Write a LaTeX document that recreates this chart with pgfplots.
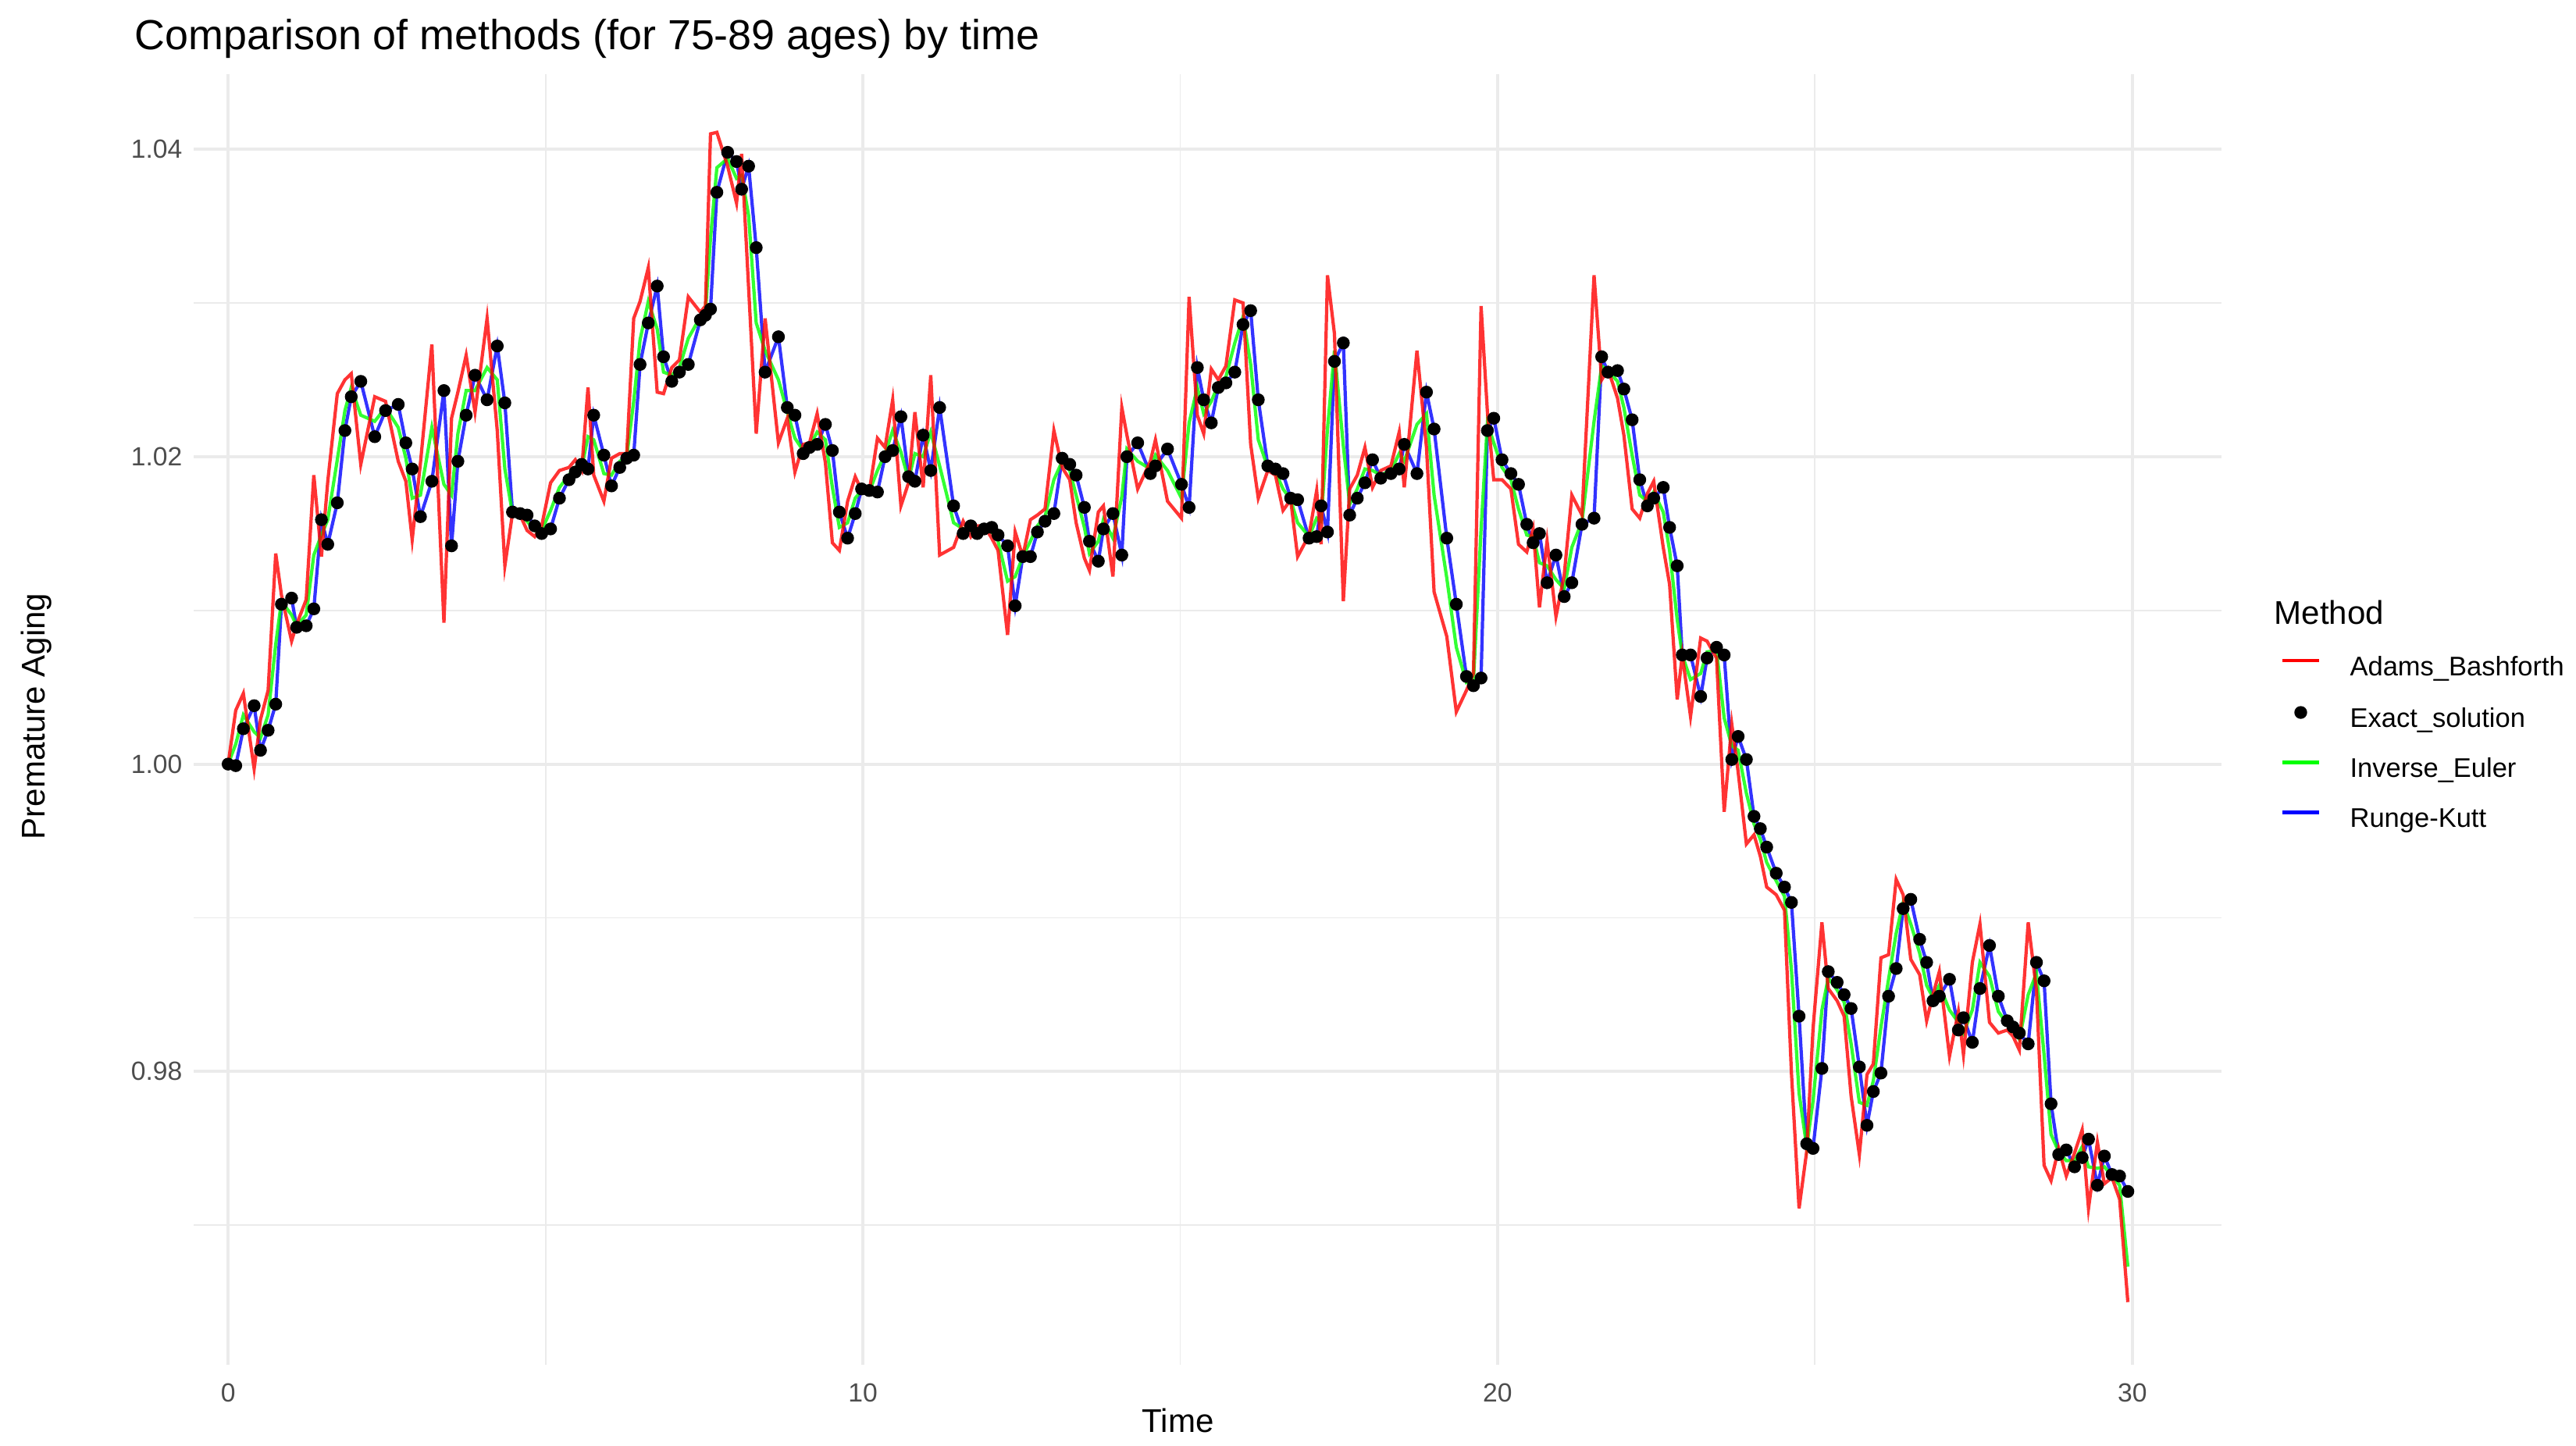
\documentclass[border=0pt]{standalone}
\usepackage{fontspec}
\setmainfont{Liberation Sans}
\usepackage{pgfplots}
\usepackage{pgfplotstable}
\pgfplotsset{compat=1.18}
\definecolor{tickgray}{HTML}{4D4D4D}
\definecolor{gridgray}{HTML}{EBEBEB}
\pgfplotstableread{
t exact inveuler adams
0.00 1.0000 1.0000 1.0000
0.12 0.9999 1.0013 1.0035
0.24 1.0023 1.0032 1.0046
0.41 1.0038 1.0021 0.9997
0.51 1.0009 1.0017 1.0029
0.63 1.0022 1.0032 1.0048
0.75 1.0039 1.0078 1.0137
0.84 1.0104 1.0106 1.0110
1.00 1.0108 1.0097 1.0080
1.08 1.0089 1.0090 1.0091
1.23 1.0090 1.0097 1.0107
1.35 1.0101 1.0136 1.0188
1.47 1.0159 1.0149 1.0135
1.57 1.0143 1.0159 1.0184
1.72 1.0170 1.0198 1.0241
1.84 1.0217 1.0230 1.0250
1.94 1.0239 1.0245 1.0254
2.09 1.0249 1.0227 1.0195
2.31 1.0213 1.0223 1.0239
2.48 1.0230 1.0232 1.0236
2.68 1.0234 1.0219 1.0197
2.80 1.0209 1.0199 1.0184
2.90 1.0192 1.0173 1.0146
3.03 1.0161 1.0175 1.0196
3.21 1.0184 1.0219 1.0273
3.40 1.0243 1.0182 1.0092
3.52 1.0142 1.0175 1.0225
3.62 1.0197 1.0215 1.0242
3.75 1.0227 1.0243 1.0266
3.89 1.0253 1.0243 1.0229
4.08 1.0237 1.0258 1.0290
4.24 1.0272 1.0250 1.0217
4.36 1.0235 1.0192 1.0129
4.48 1.0164 1.0163 1.0163
4.60 1.0163 1.0162 1.0162
4.71 1.0162 1.0158 1.0152
4.83 1.0155 1.0152 1.0148
4.94 1.0150 1.0152 1.0155
5.08 1.0153 1.0165 1.0183
5.22 1.0173 1.0180 1.0191
5.37 1.0185 1.0188 1.0193
5.47 1.0190 1.0193 1.0198
5.57 1.0195 1.0193 1.0191
5.67 1.0192 1.0213 1.0245
5.76 1.0227 1.0211 1.0188
5.92 1.0201 1.0189 1.0171
6.04 1.0181 1.0188 1.0199
6.17 1.0193 1.0197 1.0202
6.28 1.0199 1.0200 1.0202
6.39 1.0201 1.0236 1.0290
6.49 1.0260 1.0276 1.0301
6.62 1.0287 1.0301 1.0323
6.76 1.0311 1.0283 1.0242
6.86 1.0265 1.0255 1.0241
6.99 1.0249 1.0253 1.0258
7.11 1.0255 1.0258 1.0263
7.25 1.0260 1.0277 1.0304
7.44 1.0289 1.0291 1.0294
7.52 1.0292 1.0294 1.0298
7.60 1.0296 1.0342 1.0410
7.70 1.0372 1.0388 1.0411
7.87 1.0398 1.0394 1.0389
8.01 1.0392 1.0381 1.0365
8.09 1.0374 1.0383 1.0397
8.20 1.0389 1.0357 1.0310
8.32 1.0336 1.0287 1.0215
8.46 1.0255 1.0269 1.0290
8.67 1.0278 1.0250 1.0209
8.81 1.0232 1.0229 1.0225
8.93 1.0227 1.0212 1.0190
9.06 1.0202 1.0204 1.0208
9.16 1.0206 1.0207 1.0209
9.28 1.0208 1.0216 1.0228
9.41 1.0221 1.0211 1.0196
9.52 1.0204 1.0180 1.0144
9.63 1.0164 1.0154 1.0139
9.76 1.0147 1.0157 1.0171
9.88 1.0163 1.0173 1.0187
9.98 1.0179 1.0178 1.0178
10.10 1.0178 1.0177 1.0177
10.23 1.0177 1.0191 1.0212
10.35 1.0200 1.0202 1.0206
10.47 1.0204 1.0217 1.0237
10.60 1.0226 1.0203 1.0168
10.72 1.0187 1.0185 1.0183
10.82 1.0184 1.0202 1.0229
10.95 1.0214 1.0200 1.0180
11.07 1.0191 1.0216 1.0253
11.21 1.0232 1.0194 1.0136
11.43 1.0168 1.0157 1.0141
11.58 1.0150 1.0153 1.0158
11.70 1.0155 1.0152 1.0148
11.80 1.0150 1.0152 1.0155
11.91 1.0153 1.0154 1.0155
12.03 1.0154 1.0151 1.0147
12.13 1.0149 1.0145 1.0139
12.28 1.0142 1.0119 1.0084
12.40 1.0103 1.0122 1.0151
12.52 1.0135 1.0135 1.0135
12.64 1.0135 1.0145 1.0159
12.75 1.0151 1.0155 1.0162
12.87 1.0158 1.0161 1.0166
13.01 1.0163 1.0185 1.0217
13.14 1.0199 1.0197 1.0193
13.26 1.0195 1.0191 1.0185
13.36 1.0188 1.0175 1.0157
13.49 1.0167 1.0154 1.0134
13.57 1.0145 1.0137 1.0126
13.71 1.0132 1.0145 1.0164
13.79 1.0153 1.0159 1.0168
13.94 1.0163 1.0147 1.0122
14.08 1.0136 1.0174 1.0232
14.16 1.0200 1.0205 1.0214
14.33 1.0209 1.0197 1.0179
14.53 1.0189 1.0192 1.0197
14.61 1.0194 1.0201 1.0211
14.80 1.0205 1.0191 1.0171
15.02 1.0182 1.0173 1.0160
15.14 1.0167 1.0222 1.0304
15.27 1.0258 1.0245 1.0227
15.37 1.0237 1.0228 1.0215
15.49 1.0222 1.0236 1.0257
15.60 1.0245 1.0247 1.0250
15.72 1.0248 1.0252 1.0259
15.86 1.0255 1.0274 1.0302
15.99 1.0286 1.0291 1.0300
16.11 1.0295 1.0260 1.0208
16.23 1.0237 1.0211 1.0173
16.38 1.0194 1.0193 1.0191
16.50 1.0192 1.0190 1.0188
16.62 1.0189 1.0179 1.0165
16.74 1.0173 1.0172 1.0172
16.85 1.0172 1.0157 1.0135
17.03 1.0147 1.0148 1.0149
17.15 1.0148 1.0160 1.0178
17.22 1.0168 1.0158 1.0143
17.32 1.0151 1.0218 1.0318
17.43 1.0262 1.0269 1.0280
17.57 1.0274 1.0207 1.0106
17.67 1.0162 1.0169 1.0179
17.79 1.0173 1.0179 1.0188
17.91 1.0183 1.0192 1.0206
18.03 1.0198 1.0191 1.0180
18.16 1.0186 1.0188 1.0191
18.32 1.0189 1.0191 1.0194
18.45 1.0192 1.0202 1.0216
18.53 1.0208 1.0197 1.0180
18.73 1.0189 1.0221 1.0269
18.88 1.0242 1.0228 1.0206
19.00 1.0218 1.0175 1.0112
19.20 1.0147 1.0121 1.0083
19.35 1.0104 1.0076 1.0034
19.51 1.0057 1.0053 1.0048
19.62 1.0051 1.0054 1.0059
19.74 1.0056 1.0153 1.0298
19.84 1.0217 1.0222 1.0229
19.94 1.0225 1.0209 1.0185
20.07 1.0198 1.0193 1.0185
20.21 1.0189 1.0185 1.0179
20.33 1.0182 1.0166 1.0143
20.46 1.0156 1.0149 1.0138
20.56 1.0144 1.0148 1.0153
20.66 1.0150 1.0131 1.0102
20.78 1.0118 1.0129 1.0145
20.92 1.0136 1.0120 1.0096
21.05 1.0109 1.0114 1.0123
21.17 1.0118 1.0141 1.0175
21.33 1.0156 1.0158 1.0162
21.52 1.0160 1.0223 1.0318
21.64 1.0265 1.0259 1.0250
21.74 1.0255 1.0256 1.0257
21.89 1.0256 1.0249 1.0238
21.99 1.0244 1.0232 1.0214
22.12 1.0224 1.0201 1.0166
22.24 1.0185 1.0175 1.0160
22.36 1.0168 1.0171 1.0176
22.46 1.0173 1.0177 1.0184
22.61 1.0180 1.0164 1.0141
22.71 1.0154 1.0139 1.0117
22.83 1.0129 1.0094 1.0042
22.91 1.0071 1.0071 1.0071
23.04 1.0071 1.0055 1.0031
23.20 1.0044 1.0059 1.0082
23.30 1.0069 1.0073 1.0080
23.45 1.0076 1.0074 1.0069
23.57 1.0071 1.0030 0.9969
23.69 1.0003 1.0012 1.0026
23.79 1.0018 1.0009 0.9995
23.92 1.0003 0.9981 0.9948
24.04 0.9966 0.9961 0.9954
24.14 0.9958 0.9951 0.9940
24.24 0.9946 0.9936 0.9920
24.39 0.9929 0.9924 0.9915
24.52 0.9920 0.9914 0.9905
24.63 0.9910 0.9866 0.9799
24.75 0.9836 0.9786 0.9711
24.87 0.9753 0.9751 0.9748
24.97 0.9750 0.9781 0.9828
25.11 0.9802 0.9840 0.9897
25.21 0.9865 0.9861 0.9854
25.35 0.9858 0.9853 0.9846
25.46 0.9850 0.9845 0.9836
25.57 0.9841 0.9818 0.9784
25.70 0.9803 0.9780 0.9746
25.82 0.9765 0.9778 0.9798
25.92 0.9787 0.9794 0.9805
26.04 0.9799 0.9829 0.9874
26.16 0.9849 0.9860 0.9876
26.28 0.9867 0.9890 0.9925
26.39 0.9906 0.9910 0.9915
26.51 0.9912 0.9896 0.9873
26.65 0.9886 0.9877 0.9863
26.76 0.9871 0.9856 0.9833
26.86 0.9846 0.9848 0.9850
26.96 0.9849 0.9856 0.9865
27.12 0.9860 0.9840 0.9810
27.26 0.9827 0.9832 0.9839
27.34 0.9835 0.9825 0.9811
27.48 0.9819 0.9840 0.9871
27.60 0.9854 0.9871 0.9896
27.75 0.9882 0.9862 0.9832
27.89 0.9849 0.9839 0.9825
28.03 0.9833 0.9831 0.9827
28.12 0.9829 0.9827 0.9823
28.22 0.9825 0.9821 0.9814
28.36 0.9818 0.9850 0.9897
28.49 0.9871 0.9864 0.9853
28.61 0.9859 0.9811 0.9739
28.72 0.9779 0.9759 0.9729
28.84 0.9746 0.9748 0.9750
28.96 0.9749 0.9742 0.9732
29.09 0.9738 0.9742 0.9747
29.21 0.9744 0.9751 0.9762
29.31 0.9756 0.9738 0.9711
29.45 0.9726 0.9737 0.9754
29.56 0.9745 0.9738 0.9727
29.68 0.9733 0.9732 0.9731
29.80 0.9732 0.9726 0.9717
29.93 0.9722 0.9673 0.9650
}\methods

\begin{document}
\begin{tikzpicture}
\path[use as bounding box] (-59pt,-24.5pt) rectangle (725pt,415.5pt);
\begin{axis}[
  scale only axis, width=617pt, height=393pt,
  xmin=-0.54, xmax=31.4, ymin=0.9609, ymax=1.0449,
  clip mode=individual,
  axis line style={draw=none}, tick style={draw=none},
  xtick={0,10,20,30}, minor xtick={5,15,25},
  ytick={0.98,1.00,1.02,1.04}, minor ytick={0.97,0.99,1.01,1.03},
  grid=both,
  major grid style={gridgray, line width=0.9pt},
  minor grid style={gridgray, line width=0.45pt},
  /pgf/number format/assume math mode=true,
  yticklabel style={/pgf/number format/fixed, /pgf/number format/fixed zerofill, /pgf/number format/precision=2},
  ticklabel style={font=\fontsize{8}{9}\selectfont, text=tickgray},
  xticklabel style={yshift=-2pt},
  xlabel={Time},
  xlabel style={font=\fontsize{10}{12}\selectfont, at={(axis description cs:0.4854,0)}, anchor=base, yshift=-20.5pt},
  ylabel={Premature Aging},
  ylabel style={font=\fontsize{10}{12}\selectfont, at={(axis description cs:-0.0778,0.5025)}, anchor=center},
  title={Comparison of methods (for 75-89 ages) by time},
  title style={font=\fontsize{12.8}{14}\selectfont, at={(axis description cs:0,1)}, anchor=base west, xshift=-21.5pt, yshift=1.5pt},
  legend style={draw=none, fill=none, inner sep=0pt, at={(axis description cs:1.0292,0.5496)}, anchor=north west,
    font=\fontsize{8.2}{9}\selectfont, row sep=7.2pt, column sep=0pt,
    nodes={inner sep=0pt, text height=6pt, text depth=2pt},
    /tikz/every odd column/.append style={column sep=9pt}},
  legend cell align=left,
  legend image code/.code={\draw[#1] (0pt,2.6pt) -- (11pt,2.6pt);},
]
\addlegendimage{red, line width=1pt}
\addlegendentry{Adams\_Bashforth}
\addlegendimage{only marks, mark=*, mark size=1.75pt, black, legend image code/.code={\fill[black] (5.5pt,2.6pt) circle (1.75pt);}}
\addlegendentry{Exact\_solution}
\addlegendimage{green, line width=1pt}
\addlegendentry{Inverse\_Euler}
\addlegendimage{blue, line width=1pt}
\addlegendentry{Runge-Kutt}

\addplot[forget plot, blue, line width=1pt, draw opacity=0.8] table[x=t, y=exact] {\methods};
\addplot[forget plot, green, line width=1pt, draw opacity=0.8] table[x=t, y=inveuler] {\methods};
\addplot[forget plot, red, line width=1pt, draw opacity=0.8] table[x=t, y=adams] {\methods};
\addplot[forget plot, only marks, mark=*, mark size=1.75pt, black] table[x=t, y=exact] {\methods};

\node[anchor=base west, inner sep=0pt, font=\fontsize{10}{12}\selectfont] at (axis description cs:1.0259,0.5738) {Method};
\end{axis}
\end{tikzpicture}
\end{document}
